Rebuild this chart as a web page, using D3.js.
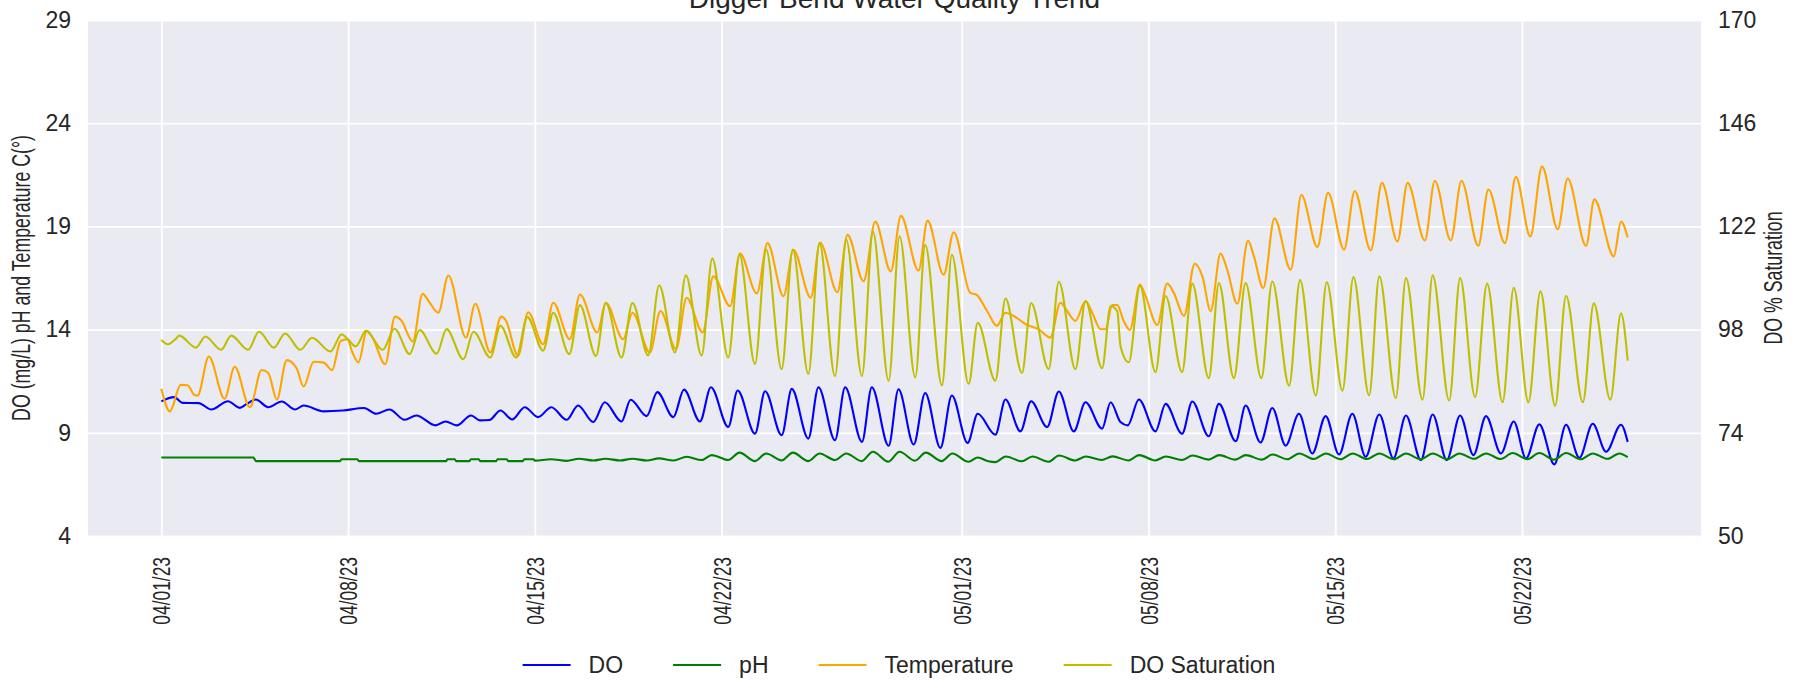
<!DOCTYPE html>
<html>
<head>
<meta charset="utf-8">
<script src="https://cdn.jsdelivr.net/npm/d3@7"></script>
<style>
  body { margin: 0; background: #ffffff; }
  svg { display: block; }
</style>
</head>
<body>
<svg id="chart" width="1798" height="680"></svg>
<script>
// ---------------- DATA ----------------
const chartTitle = "Digger Bend Water Quality Trend";
const leftLabel = "DO (mg/L) pH and Temperature C(°)";
const rightLabel = "DO % Saturation";
const startDate = "2023-04-01";
const xTickDates = ["2023-04-01", "2023-04-08", "2023-04-15", "2023-04-22", "2023-05-01", "2023-05-08", "2023-05-15", "2023-05-22"];
const xTickLabels = ["04/01/23", "04/08/23", "04/15/23", "04/22/23", "05/01/23", "05/08/23", "05/15/23", "05/22/23"];
const leftTicks = [4, 9, 14, 19, 24, 29];
const rightTicks = [50, 74, 98, 122, 146, 170];
const seriesNames = ["DO", "pH", "Temperature", "DO Saturation"];

// days since 04/01/23 00:00 and readings (peaks / troughs)
const doDays = [0.00, 0.48, 0.80, 1.40, 1.87, 2.50, 2.94, 3.20, 3.54, 4.01, 4.51, 5.02, 5.33, 6.09, 6.80, 7.60, 8.05, 8.55, 9.12, 9.56, 10.28, 10.65, 11.07, 11.61, 11.95, 12.30, 12.71, 13.15, 13.62, 14.12, 14.62, 15.19, 15.62, 16.19, 16.62, 17.25, 17.59, 18.19, 18.59, 19.19, 19.59, 20.19, 20.60, 21.25, 21.60, 22.25, 22.63, 23.25, 23.63, 24.25, 24.63, 25.25, 25.63, 26.26, 26.63, 27.26, 27.63, 28.20, 28.63, 29.20, 29.63, 30.22, 30.60, 31.26, 31.64, 32.20, 32.60, 33.20, 33.64, 34.20, 34.64, 35.26, 35.58, 35.95, 36.22, 36.64, 37.26, 37.64, 38.26, 38.64, 39.26, 39.64, 40.27, 40.64, 41.20, 41.64, 42.14, 42.64, 43.14, 43.64, 44.14, 44.64, 45.14, 45.65, 46.18, 46.65, 47.21, 47.65, 48.18, 48.68, 49.18, 49.65, 50.21, 50.69, 51.15, 51.65, 52.21, 52.65, 53.15, 53.65, 54.15, 54.71, 54.96];
const doValues = [10.52, 10.73, 10.45, 10.44, 10.13, 10.53, 10.21, 10.40, 10.61, 10.24, 10.52, 10.13, 10.32, 10.04, 10.08, 10.20, 9.92, 10.13, 9.63, 9.84, 9.36, 9.55, 9.36, 9.84, 9.60, 9.62, 10.08, 9.65, 10.24, 9.76, 10.24, 9.63, 10.32, 9.52, 10.48, 9.55, 10.60, 9.81, 10.97, 9.76, 11.09, 9.55, 11.21, 9.28, 11.05, 8.96, 11.01, 8.88, 11.13, 8.72, 11.21, 8.64, 11.21, 8.56, 11.21, 8.37, 11.11, 8.43, 10.93, 8.27, 10.81, 8.51, 9.92, 8.91, 10.61, 9.07, 10.53, 9.28, 11.00, 9.07, 10.48, 9.20, 10.48, 9.52, 9.36, 10.61, 9.07, 10.40, 8.96, 10.52, 8.83, 10.40, 8.59, 10.32, 8.53, 10.20, 8.38, 9.92, 8.00, 9.81, 7.95, 9.92, 7.84, 9.89, 7.76, 9.84, 7.68, 9.89, 7.68, 9.84, 7.92, 9.81, 8.00, 9.55, 7.76, 9.41, 7.47, 9.39, 7.79, 9.44, 8.08, 9.39, 8.56];

const phDays = [0.00, 3.45, 3.55, 6.70, 6.75, 7.35, 7.40, 10.68, 10.72, 11.00, 11.05, 11.55, 11.60, 11.90, 11.95, 12.55, 12.60, 12.95, 13.00, 13.55, 13.60, 13.95, 14.00, 14.60, 15.20, 15.65, 16.20, 16.65, 17.20, 17.65, 18.20, 18.65, 19.20, 19.69, 20.25, 20.63, 21.25, 21.67, 22.25, 22.67, 23.25, 23.67, 24.25, 24.67, 25.25, 25.67, 26.25, 26.67, 27.25, 27.67, 28.25, 28.65, 29.25, 29.65, 30.25, 30.60, 31.00, 31.25, 31.65, 32.25, 32.65, 33.25, 33.65, 34.25, 34.65, 35.25, 35.65, 36.25, 36.65, 37.25, 37.65, 38.25, 38.65, 39.25, 39.65, 40.25, 40.65, 41.25, 41.65, 42.20, 42.65, 43.20, 43.65, 44.20, 44.65, 45.20, 45.65, 46.20, 46.65, 47.20, 47.65, 48.20, 48.65, 49.20, 49.65, 50.20, 50.65, 51.20, 51.65, 52.20, 52.65, 53.20, 53.65, 54.20, 54.65, 54.96];
const phValues = [7.80, 7.80, 7.63, 7.63, 7.72, 7.72, 7.63, 7.63, 7.72, 7.72, 7.63, 7.63, 7.72, 7.72, 7.63, 7.63, 7.72, 7.72, 7.63, 7.63, 7.72, 7.72, 7.65, 7.72, 7.64, 7.74, 7.66, 7.74, 7.66, 7.74, 7.66, 7.76, 7.66, 7.84, 7.68, 7.92, 7.68, 8.04, 7.63, 8.00, 7.66, 8.04, 7.63, 8.00, 7.68, 8.00, 7.63, 8.08, 7.60, 8.08, 7.65, 8.04, 7.63, 8.00, 7.60, 7.80, 7.62, 7.58, 7.85, 7.62, 7.85, 7.60, 7.90, 7.66, 7.85, 7.68, 7.86, 7.66, 7.92, 7.66, 7.85, 7.68, 7.90, 7.70, 7.92, 7.70, 7.92, 7.70, 7.95, 7.72, 8.00, 7.73, 8.00, 7.72, 8.00, 7.73, 8.00, 7.72, 8.00, 7.72, 8.00, 7.72, 8.00, 7.74, 8.00, 7.73, 8.02, 7.72, 8.02, 7.70, 8.02, 7.72, 8.00, 7.74, 8.00, 7.82];

const tempDays = [0.00, 0.32, 0.73, 0.98, 1.24, 1.36, 1.78, 2.37, 2.75, 3.32, 3.76, 4.01, 4.33, 4.70, 5.08, 5.33, 5.71, 6.09, 6.40, 6.72, 6.97, 7.16, 7.39, 7.70, 7.92, 8.39, 8.76, 8.99, 9.43, 9.79, 10.06, 10.38, 10.76, 11.42, 11.77, 12.33, 12.74, 12.91, 13.37, 13.75, 14.31, 14.69, 15.31, 15.69, 16.34, 16.66, 17.31, 17.66, 18.31, 18.71, 19.29, 19.69, 20.29, 20.69, 21.32, 21.69, 22.32, 22.72, 23.32, 23.69, 24.34, 24.69, 25.34, 25.72, 26.32, 26.76, 27.34, 27.72, 28.38, 28.72, 29.32, 29.70, 30.32, 30.54, 30.95, 31.32, 31.64, 31.95, 32.40, 32.90, 33.32, 33.70, 33.95, 34.26, 34.64, 34.89, 35.20, 35.39, 35.64, 35.83, 36.07, 36.30, 36.68, 36.89, 37.33, 37.70, 37.95, 38.33, 38.73, 39.02, 39.33, 39.70, 39.95, 40.33, 40.73, 40.95, 41.30, 41.72, 42.33, 42.73, 43.33, 43.73, 44.33, 44.73, 45.33, 45.75, 46.33, 46.71, 47.36, 47.73, 48.33, 48.73, 49.36, 49.74, 50.36, 50.77, 51.31, 51.75, 52.34, 52.71, 53.40, 53.71, 54.44, 54.71, 54.96];
const tempValues = [11.13, 10.04, 11.32, 11.30, 10.84, 10.80, 12.70, 10.65, 12.20, 10.24, 12.04, 11.90, 10.61, 12.52, 12.10, 11.24, 12.44, 12.40, 12.04, 13.45, 13.53, 12.90, 12.41, 13.94, 13.60, 12.33, 14.63, 14.45, 13.42, 15.73, 15.30, 14.82, 16.62, 13.61, 15.25, 12.89, 14.63, 14.45, 12.73, 14.84, 13.29, 15.30, 13.53, 15.70, 13.86, 15.30, 13.53, 14.82, 12.89, 14.90, 13.05, 15.54, 13.86, 16.58, 15.14, 17.68, 15.75, 18.19, 15.62, 17.87, 15.54, 18.22, 15.81, 18.59, 16.34, 19.23, 16.82, 19.51, 16.86, 19.28, 16.66, 18.72, 15.78, 15.70, 14.90, 14.18, 14.82, 14.66, 14.26, 14.00, 13.61, 15.30, 14.90, 14.42, 15.38, 14.82, 14.02, 14.02, 15.19, 15.19, 14.42, 13.98, 16.18, 15.62, 14.22, 16.23, 15.78, 14.66, 17.19, 16.58, 14.90, 17.68, 16.90, 15.25, 18.32, 17.55, 16.02, 19.39, 16.90, 20.52, 18.00, 20.63, 17.87, 20.71, 17.84, 21.11, 18.27, 21.11, 18.32, 21.21, 18.32, 21.21, 18.06, 20.79, 18.19, 21.40, 18.51, 21.91, 18.86, 21.32, 18.06, 20.31, 17.55, 19.23, 18.46];

const satDays = [0.00, 0.25, 0.55, 0.67, 1.30, 1.65, 2.24, 2.62, 3.25, 3.66, 4.22, 4.64, 5.21, 5.65, 6.34, 6.76, 6.97, 7.29, 7.67, 8.30, 8.74, 9.31, 9.68, 10.32, 10.69, 11.32, 11.70, 12.33, 12.71, 13.30, 13.72, 14.31, 14.69, 15.29, 15.69, 16.29, 16.66, 17.25, 17.66, 18.25, 18.66, 19.25, 19.66, 20.25, 20.65, 21.25, 21.67, 22.25, 22.67, 23.25, 23.67, 24.25, 24.67, 25.25, 25.67, 26.26, 26.67, 27.26, 27.67, 28.26, 28.63, 29.26, 29.63, 30.26, 30.60, 31.26, 31.64, 32.26, 32.60, 33.26, 33.64, 34.26, 34.64, 35.26, 35.58, 35.83, 35.95, 36.26, 36.68, 37.26, 37.64, 38.26, 38.64, 39.26, 39.64, 40.20, 40.64, 41.23, 41.64, 42.27, 42.68, 43.27, 43.68, 44.27, 44.68, 45.27, 45.65, 46.27, 46.65, 47.27, 47.65, 48.27, 48.68, 49.24, 49.69, 50.27, 50.69, 51.24, 51.69, 52.24, 52.65, 53.28, 53.69, 54.31, 54.71, 54.96];
const satValues = [95.6, 94.6, 95.9, 96.6, 93.8, 96.4, 93.3, 96.6, 93.3, 97.5, 93.8, 97.1, 93.3, 96.1, 92.9, 96.9, 95.9, 94.1, 97.7, 93.3, 98.2, 92.3, 97.9, 92.4, 98.1, 91.1, 97.5, 91.5, 98.9, 91.5, 100.9, 93.1, 101.9, 92.3, 103.7, 91.9, 104.2, 91.5, 104.2, 92.0, 108.3, 92.7, 110.6, 92.0, 114.5, 91.5, 115.4, 90.0, 116.6, 88.8, 116.6, 87.7, 118.1, 87.2, 118.9, 87.2, 120.8, 86.1, 119.7, 86.9, 117.7, 85.0, 115.4, 85.4, 99.6, 86.1, 105.2, 87.9, 104.2, 88.8, 109.2, 88.8, 104.6, 89.0, 103.5, 102.3, 94.2, 90.4, 108.2, 88.1, 105.8, 88.1, 108.7, 86.7, 108.8, 86.7, 108.8, 86.7, 109.2, 85.0, 109.5, 82.7, 109.0, 83.8, 110.2, 82.7, 110.4, 82.1, 110.0, 81.7, 110.6, 81.5, 110.0, 82.3, 108.7, 81.1, 107.7, 81.1, 106.9, 80.3, 105.8, 81.1, 104.1, 81.7, 101.8, 90.8];

// ---------------- LAYOUT / STYLE ----------------
const W = 1798, H = 680;
const M = { left: 88, right: 1701, top: 20, bottom: 536 };
const colors = { "DO": "#0000ff", "pH": "#008000", "Temperature": "#ffa500", "DO Saturation": "#bfbf00" };
const textColor = "#262626";
const fontMain = "'Liberation Sans', Arial, Helvetica, sans-serif";
const narrow = 0.71;      // rotated texts in the reference are condensed
const rotSize = 24.5;

const t0 = Date.parse(startDate + "T00:00:00Z");
const toDate = d => new Date(t0 + d * 86400000);
const mk = (days, vals) => days.map((d, i) => ({ t: toDate(d), v: vals[i] }));

const series = [
  { name: "DO", data: mk(doDays, doValues), axis: "left" },
  { name: "pH", data: mk(phDays, phValues), axis: "left" },
  { name: "Temperature", data: mk(tempDays, tempValues), axis: "left" },
  { name: "DO Saturation", data: mk(satDays, satValues), axis: "right" }
];

const allT = series.flatMap(s => s.data.map(p => +p.t));
const tMin = d3.min(allT), tMax = d3.max(allT);
const pad = (tMax - tMin) * 0.05;

const x = d3.scaleUtc().domain([new Date(tMin - pad), new Date(tMax + pad)]).range([M.left, M.right]);
const yL = d3.scaleLinear().domain([4, 29]).range([M.bottom, M.top]);
const yR = d3.scaleLinear().domain([50, 170]).range([M.bottom, M.top]);

const svg = d3.select("#chart");

// background
svg.append("rect").attr("x", M.left).attr("y", M.top)
  .attr("width", M.right - M.left).attr("height", M.bottom - M.top)
  .attr("fill", "#eaeaf2");

const xTicks = xTickDates.map(s => new Date(s + "T00:00:00Z"));

// grid
const grid = svg.append("g").attr("class", "grid");
grid.append("g").attr("transform", `translate(0,${M.bottom})`)
  .call(d3.axisBottom(x).tickValues(xTicks).tickSize(-(M.bottom - M.top)).tickFormat(""))
  .call(g => g.select(".domain").remove())
  .call(g => g.selectAll("line").attr("stroke", "#ffffff").attr("stroke-width", 1.8));
grid.append("g").attr("transform", `translate(${M.left},0)`)
  .call(d3.axisLeft(yL).tickValues(leftTicks).tickSize(-(M.right - M.left)).tickFormat(""))
  .call(g => g.select(".domain").remove())
  .call(g => g.selectAll("line").attr("stroke", "#ffffff").attr("stroke-width", 1.8));

// lines
svg.append("clipPath").attr("id", "clip").append("rect")
  .attr("x", M.left).attr("y", M.top).attr("width", M.right - M.left).attr("height", M.bottom - M.top);
const plotG = svg.append("g").attr("clip-path", "url(#clip)");
series.forEach(s => {
  const yS = s.axis === "left" ? yL : yR;
  const line = d3.line().x(p => x(p.t)).y(p => yS(p.v)).curve(d3.curveMonotoneX);
  plotG.append("path").datum(s.data)
    .attr("fill", "none").attr("stroke", colors[s.name])
    .attr("stroke-width", 2.1).attr("stroke-linejoin", "round")
    .attr("d", line);
});

// left axis labels
const axL = svg.append("g").attr("transform", `translate(${M.left},0)`)
  .call(d3.axisLeft(yL).tickValues(leftTicks).tickSize(0).tickPadding(17).tickFormat(d3.format("d")));
axL.select(".domain").remove();
axL.selectAll("text").attr("font-family", fontMain).attr("font-size", 23).attr("fill", textColor);

// right axis labels
const axR = svg.append("g").attr("transform", `translate(${M.right},0)`)
  .call(d3.axisRight(yR).tickValues(rightTicks).tickSize(0).tickPadding(17).tickFormat(d3.format("d")));
axR.select(".domain").remove();
axR.selectAll("text").attr("font-family", fontMain).attr("font-size", 23).attr("fill", textColor);

// x axis labels (rotated, condensed)
const axX = svg.append("g").attr("transform", `translate(0,${M.bottom})`)
  .call(d3.axisBottom(x).tickValues(xTicks).tickSize(0).tickFormat((d, i) => xTickLabels[i]));
axX.select(".domain").remove();
axX.selectAll("text")
  .attr("font-family", fontMain).attr("font-size", rotSize).attr("fill", textColor)
  .attr("text-anchor", "end")
  .attr("transform", `rotate(-90) scale(${narrow},1)`)
  .attr("x", -21 / narrow).attr("y", 0).attr("dy", "0.35em");

// axis titles
svg.append("text").attr("transform", `translate(30,${(M.top + M.bottom) / 2}) rotate(-90) scale(${narrow},1)`)
  .attr("text-anchor", "middle").attr("font-family", fontMain).attr("font-size", rotSize + 0.5)
  .attr("fill", textColor).text(leftLabel);
svg.append("text").attr("transform", `translate(1782,${(M.top + M.bottom) / 2}) rotate(-90) scale(${narrow},1)`)
  .attr("text-anchor", "middle").attr("font-family", fontMain).attr("font-size", rotSize + 0.5)
  .attr("fill", textColor).text(rightLabel);

// title
svg.append("text").attr("x", (M.left + M.right) / 2).attr("y", 8)
  .attr("text-anchor", "middle").attr("font-family", fontMain).attr("font-size", 28)
  .attr("fill", textColor).text(chartTitle);

// legend
const leg = svg.append("g");
const lineLen = 48, gap = 18, colSep = 50, legY = 665;
let cx = 0;
seriesNames.forEach(name => {
  const g = leg.append("g");
  g.append("line").attr("x1", 0).attr("x2", lineLen).attr("y1", 0).attr("y2", 0)
    .attr("stroke", colors[name]).attr("stroke-width", 2.1);
  const t = g.append("text").attr("x", lineLen + gap).attr("y", 0).attr("dy", "0.35em")
    .attr("font-family", fontMain).attr("font-size", 23).attr("fill", textColor).text(name);
  const w = lineLen + gap + t.node().getComputedTextLength();
  g.attr("transform", `translate(${cx},0)`);
  cx += w + colSep;
});
const totalW = cx - colSep;
leg.attr("transform", `translate(${W / 2 - totalW / 2},${legY})`);
</script>
</body>
</html>
